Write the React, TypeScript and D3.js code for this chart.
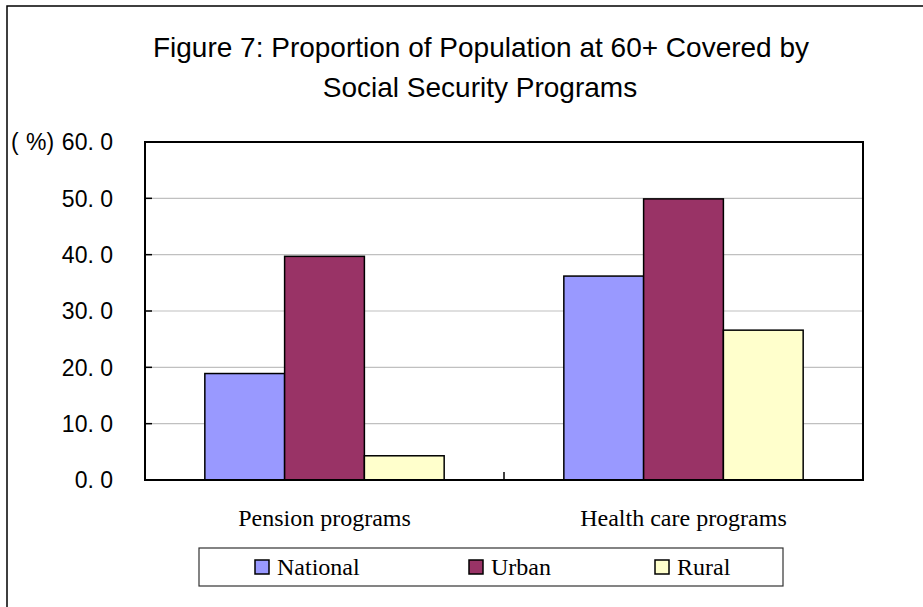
import React from "react";
import * as d3 from "d3";

const categories = ["Pension programs", "Health care programs"];
const seriesNames = ["National", "Urban", "Rural"];
const national = [18.9, 36.2];
const urban = [39.7, 49.9];
const rural = [4.3, 26.6];
const yTicks = [0, 10, 20, 30, 40, 50, 60];
const titleLines = ["Figure 7: Proportion of Population at 60+ Covered by", "Social Security Programs"];
const colors = ["#9999FF", "#993366", "#FFFFCC"];

const W = 923;
const H = 607;
const plot = { left: 145, right: 863, top: 142, bottom: 480 };

export default function App() {
  const seriesValues = [national, urban, rural];
  const x = d3.scaleBand<string>().domain(categories).range([plot.left, plot.right]).paddingInner(0).paddingOuter(0);
  const xs = d3.scaleBand<string>().domain(seriesNames).range([0, x.bandwidth()]).paddingInner(0).paddingOuter(0.75);
  const y = d3.scaleLinear().domain([0, 60]).range([plot.bottom, plot.top]);
  const fmt = (v: number) => d3.format(".1f")(v).replace(".", ". ");
  const legendX = [255, 469, 655];

  return (
    <svg width={W} height={H} style={{ position: "absolute", left: 0, top: 0, background: "#fff" }}>
      <rect x={0} y={0} width={W} height={H} fill="#fff" />
      {/* outer frame */}
      <rect x={7} y={6} width={W + 20} height={H + 20} fill="none" stroke="#000" strokeWidth={1.5} />
      {/* title */}
      <g fontFamily="Liberation Sans, Arial, sans-serif" fontSize={28} fill="#000" textAnchor="middle">
        <text x={481} y={57}>{titleLines[0]}</text>
        <text x={480} y={97}>{titleLines[1]}</text>
      </g>
      {/* gridlines */}
      {yTicks.filter((t) => t > 0 && t < 60).map((t) => (
        <line key={"g" + t} x1={plot.left} x2={plot.right} y1={y(t)} y2={y(t)} stroke="#c0c0c0" strokeWidth={1.2} />
      ))}
      {/* bars */}
      {categories.map((c, ci) =>
        seriesNames.map((s, si) => {
          const v = seriesValues[si][ci];
          const bx = (x(c) as number) + (xs(s) as number);
          return (
            <rect key={c + s} x={bx} y={y(v)} width={xs.bandwidth()} height={y(0) - y(v)} fill={colors[si]} stroke="#000" strokeWidth={1.5} />
          );
        })
      )}
      {/* plot frame */}
      <rect x={plot.left} y={plot.top} width={plot.right - plot.left} height={plot.bottom - plot.top} fill="none" stroke="#000" strokeWidth={2} />
      {/* y ticks */}
      {yTicks.map((t) => (
        <line key={"t" + t} x1={plot.left} x2={plot.left + 7} y1={y(t)} y2={y(t)} stroke="#000" strokeWidth={1.5} />
      ))}
      {/* x tick between categories */}
      {categories.slice(1).map((c) => (
        <line key={"xt" + c} x1={x(c) as number} x2={x(c) as number} y1={plot.bottom} y2={plot.bottom - 8} stroke="#000" strokeWidth={1.5} />
      ))}
      {/* y labels */}
      <g fontFamily="Liberation Sans, Arial, sans-serif" fontSize={23} fill="#000" textAnchor="end">
        {yTicks.map((t) => (
          <text key={"l" + t} x={113} y={y(t)} dy="0.36em">{fmt(t)}</text>
        ))}
      </g>
      {/* unit label */}
      <g fontFamily="Liberation Sans, Arial, sans-serif" fontSize={23} fill="#000">
        <text x={11} y={y(60)} dy="0.36em">(</text>
        <text x={26} y={y(60)} dy="0.36em">%)</text>
      </g>
      {/* category labels */}
      <g fontFamily="Liberation Serif, Times New Roman, serif" fontSize={24} fill="#000" textAnchor="middle">
        {categories.map((c) => (
          <text key={"c" + c} x={(x(c) as number) + x.bandwidth() / 2} y={526}>{c}</text>
        ))}
      </g>
      {/* legend */}
      <rect x={199} y={548} width={584} height={38} fill="#fff" stroke="#333" strokeWidth={1.2} />
      {seriesNames.map((s, i) => (
        <g key={"lg" + s}>
          <rect x={legendX[i]} y={560} width={14} height={14} fill={colors[i]} stroke="#000" strokeWidth={1.5} />
          <text x={legendX[i] + 22} y={575} fontFamily="Liberation Serif, Times New Roman, serif" fontSize={24} fill="#000">{s}</text>
        </g>
      ))}
    </svg>
  );
}
